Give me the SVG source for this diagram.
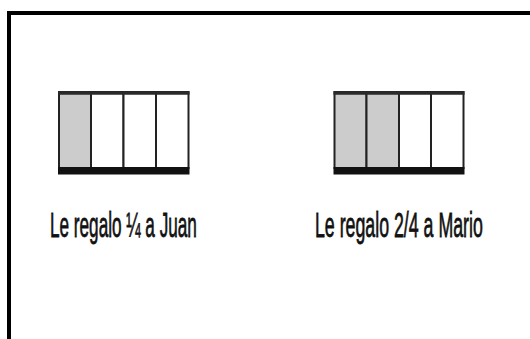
<svg xmlns="http://www.w3.org/2000/svg" width="530" height="339" viewBox="0 0 530 339">
  <style>
    .frame { stroke: #000; stroke-width: 4; fill: none; }
    .cell { stroke: #222; stroke-width: 2; }
    .shaded { fill: #cccccc; }
    .blank { fill: #ffffff; }
    .topline { stroke: #2a2a2a; stroke-width: 3.5; }
    .base { fill: #111; }
    .label { font-family: "Liberation Sans", Arial, sans-serif; font-size: 35px; fill: #111; stroke: #111; stroke-width: 0.6; vector-effect: non-scaling-stroke; }
  </style>
  <rect x="0" y="0" width="530" height="339" fill="#ffffff"/>
  <g id="frame">
    <path class="frame" d="M9 339 V13 H530"/>
  </g>
  <g id="bar-juan">
    <rect class="cell shaded" x="59" y="92" width="32" height="76"/>
    <rect class="cell blank" x="91" y="92" width="32.5" height="76"/>
    <rect class="cell blank" x="123.5" y="92" width="32.5" height="76"/>
    <rect class="cell blank" x="156" y="92" width="32.5" height="76"/>
    <line class="topline" x1="58" y1="93" x2="189.5" y2="93"/>
    <rect class="base" x="58" y="167" width="131.5" height="7.5"/>
  </g>
  <g id="label-juan">
    <text class="label" transform="matrix(0.51,0,0,1,50,236.5)" x="0" y="0" textLength="288" lengthAdjust="spacingAndGlyphs">Le regalo ¼ a Juan</text>
  </g>
  <g id="bar-mario">
    <rect class="cell shaded" x="334.5" y="92" width="32" height="76"/>
    <rect class="cell shaded" x="366.5" y="92" width="32.5" height="76"/>
    <rect class="cell blank" x="399" y="92" width="32" height="76"/>
    <rect class="cell blank" x="431" y="92" width="32.5" height="76"/>
    <line class="topline" x1="333.5" y1="93" x2="464.5" y2="93"/>
    <rect class="base" x="333.5" y="167" width="131" height="7.5"/>
  </g>
  <g id="label-mario">
    <text class="label" transform="matrix(0.51,0,0,1,315,236.5)" x="0" y="0" textLength="329" lengthAdjust="spacingAndGlyphs">Le regalo 2/4 a Mario</text>
  </g>
</svg>
